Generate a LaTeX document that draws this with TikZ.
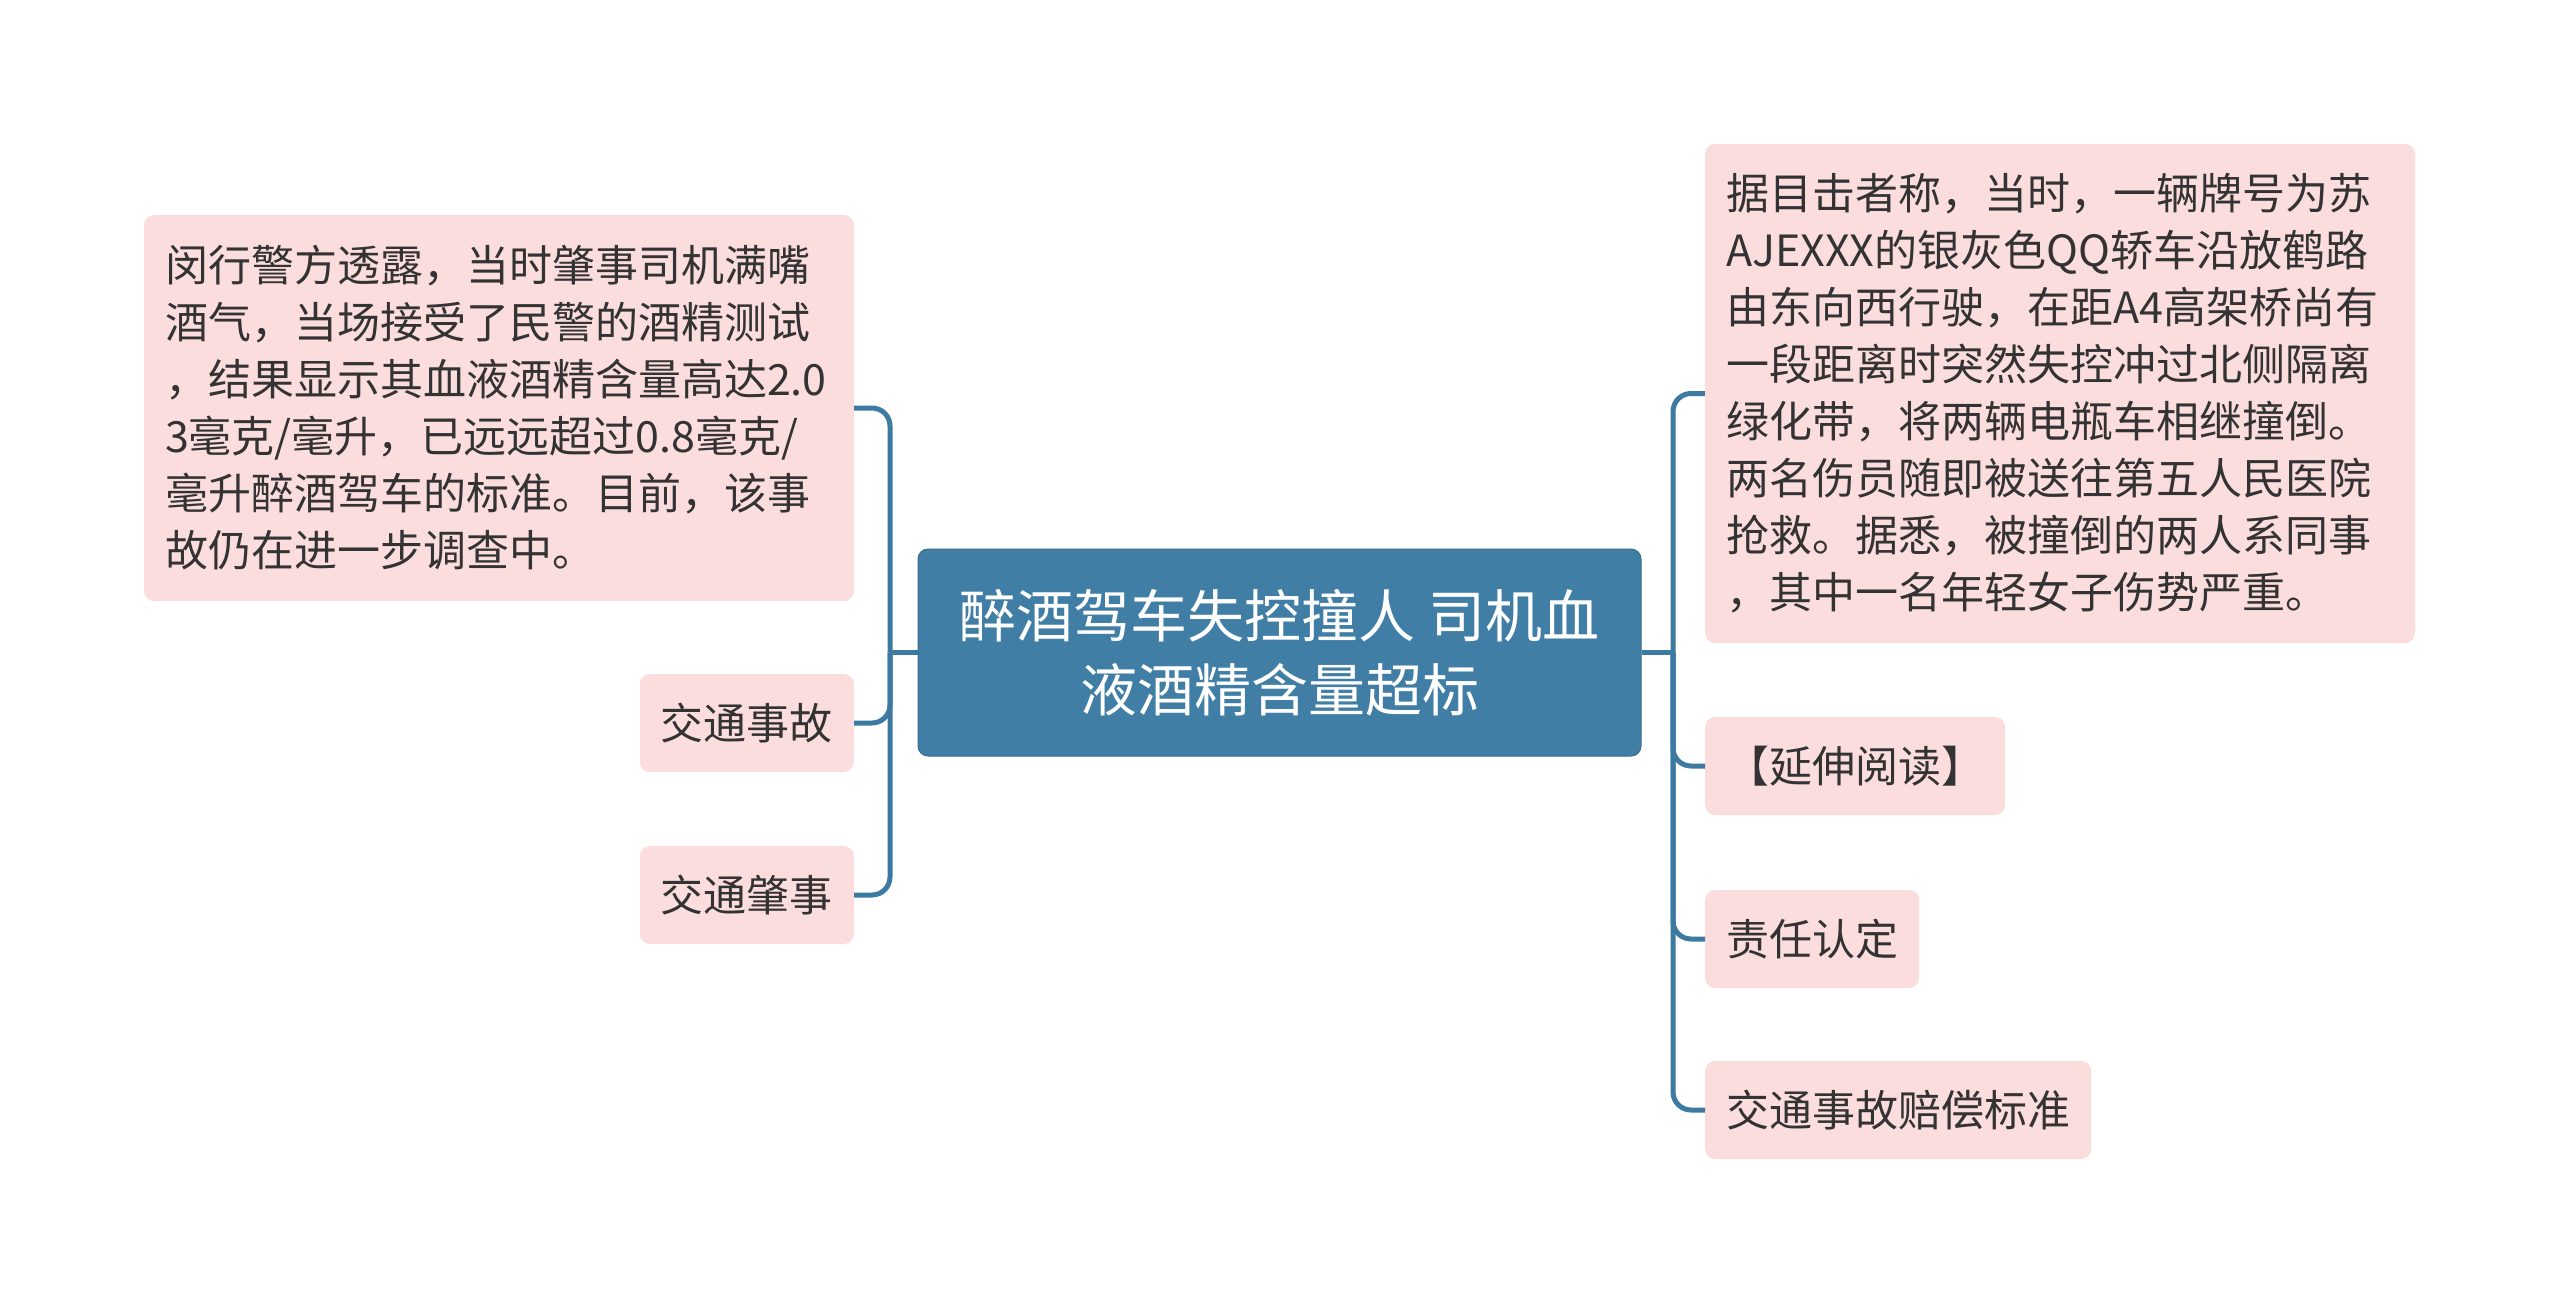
\documentclass[tikz,border=0pt]{standalone}
\usepackage{fontspec}
\setmainfont{Noto Sans CJK SC}
\definecolor{pinkfill}{RGB}{252,221,221}
\definecolor{centerfill}{RGB}{64,126,166}
\definecolor{linecol}{RGB}{60,122,162}
\definecolor{txt}{RGB}{51,51,51}
\tikzset{
  box/.style={rectangle, rounded corners=10pt, fill=pinkfill, text=txt,
    inner xsep=21pt, inner ysep=0pt, font=\fontsize{43}{57}\selectfont},
  bigbox/.style={box, text width=668pt, align=left},
  smallbox/.style={box, minimum height=98pt},
  rootbox/.style={rectangle, rounded corners=10pt, fill=centerfill, draw=centerfill!85!black, line width=1pt,
    text=white, align=center, minimum width=723pt, minimum height=207pt,
    font=\fontsize{57}{74}\selectfont},
  conn/.style={draw=linecol, line width=5pt, rounded corners=18pt}
}
\begin{document}
\begin{tikzpicture}[x=1pt,y=-1pt]
\useasboundingbox (0,0) rectangle (2560,1304);
\node[rootbox] (root) at (1279.5,652.5) {醉酒驾车失控撞人 司机血\\液酒精含量超标};

\node[bigbox, minimum height=386pt] (l1) at (499,408) {闵行警方透露，当时肇事司机满嘴\\酒气，当场接受了民警的酒精测试\\，结果显示其血液酒精含量高达2.0\\3毫克/毫升，已远远超过0.8毫克/\\毫升醉酒驾车的标准。目前，该事\\故仍在进一步调查中。};
\node[smallbox, anchor=east] (l2) at (854,723) {交通事故};
\node[smallbox, anchor=east] (l3) at (854,895) {交通肇事};

\node[bigbox, minimum height=499pt] (r1) at (2060,393.5) {据目击者称，当时，一辆牌号为苏\\AJEXXX的银灰色QQ轿车沿放鹤路\\由东向西行驶，在距A4高架桥尚有\\一段距离时突然失控冲过北侧隔离\\绿化带，将两辆电瓶车相继撞倒。\\两名伤员随即被送往第五人民医院\\抢救。据悉，被撞倒的两人系同事\\，其中一名年轻女子伤势严重。};
\node[smallbox, anchor=west] (r2) at (1705,766) {【延伸阅读】};
\node[smallbox, anchor=west] (r3) at (1705,939) {责任认定};
\node[smallbox, anchor=west] (r4) at (1705,1110) {交通事故赔偿标准};

\coordinate (jl) at (890,652.5);
\coordinate (jr) at (1673,652.5);

\draw[conn] (root.west) -- (jl);
\draw[conn] (jl) |- (l1.east);
\draw[conn] (jl) |- (l2.east);
\draw[conn] (jl) |- (l3.east);

\draw[conn] (root.east) -- (jr);
\draw[conn] (jr) |- (r1.west);
\draw[conn] (jr) |- (r2.west);
\draw[conn] (jr) |- (r3.west);
\draw[conn] (jr) |- (r4.west);
\end{tikzpicture}
\end{document}
